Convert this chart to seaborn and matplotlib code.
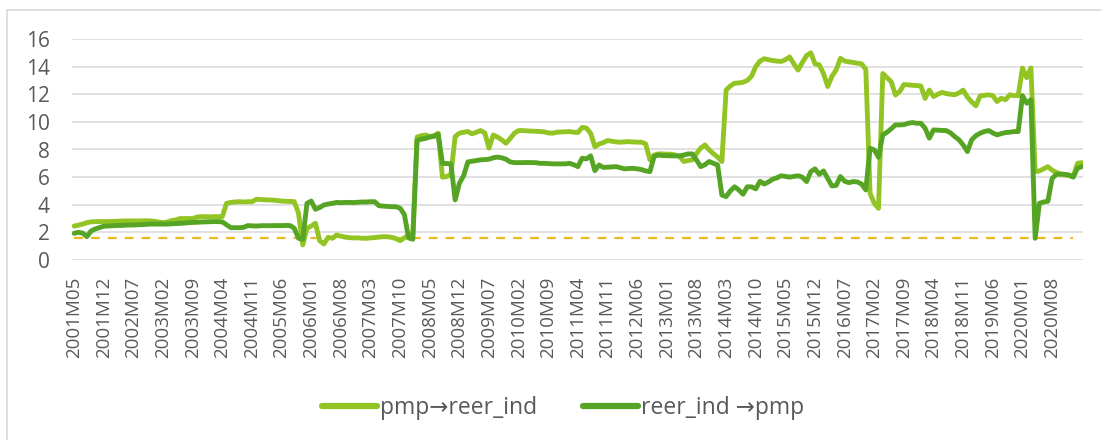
import numpy as np
import pandas as pd
import matplotlib
matplotlib.use("Agg")
import matplotlib.pyplot as plt
import seaborn as sns
from matplotlib.lines import Line2D

# ---- data (monthly, 2001M05 .. 2021M03) ----
pmp_to_reer = [
    # 2001 M05-M12
    2.46, 2.52, 2.60, 2.70, 2.76, 2.78, 2.78, 2.78,
    # 2002
    2.78, 2.80, 2.80, 2.82, 2.83, 2.83, 2.83, 2.83, 2.83, 2.84, 2.83, 2.80,
    # 2003
    2.75, 2.70, 2.75, 2.85, 2.90, 3.00, 3.00, 3.00, 3.00, 3.10, 3.14, 3.14,
    # 2004
    3.12, 3.14, 3.14, 3.14, 4.10, 4.17, 4.20, 4.22, 4.20, 4.22, 4.22, 4.39,
    # 2005
    4.38, 4.36, 4.35, 4.34, 4.30, 4.27, 4.25, 4.24, 4.22, 3.40, 1.09, 2.30,
    # 2006
    2.45, 2.66, 1.40, 1.16, 1.64, 1.57, 1.81, 1.72, 1.66, 1.62, 1.60, 1.60,
    # 2007
    1.58, 1.57, 1.60, 1.62, 1.66, 1.69, 1.68, 1.64, 1.55, 1.40, 1.60, 1.80,
    # 2008
    1.85, 8.90, 9.00, 9.05, 8.94, 9.00, 9.18, 6.00, 6.04, 6.20, 8.94, 9.18,
    # 2009
    9.25, 9.30, 9.13, 9.25, 9.37, 9.20, 8.10, 9.05, 8.90, 8.70, 8.45, 8.80,
    # 2010
    9.18, 9.37, 9.37, 9.35, 9.33, 9.32, 9.30, 9.28, 9.20, 9.18, 9.25, 9.27,
    # 2011
    9.28, 9.30, 9.25, 9.23, 9.60, 9.55, 9.18, 8.20, 8.40, 8.50, 8.65, 8.60,
    # 2012
    8.55, 8.53, 8.55, 8.57, 8.55, 8.53, 8.53, 8.40, 7.25, 7.60, 7.68, 7.68,
    # 2013
    7.66, 7.66, 7.60, 7.50, 7.13, 7.20, 7.25, 7.70, 8.10, 8.33, 7.97, 7.70,
    # 2014
    7.45, 7.13, 12.30, 12.60, 12.80, 12.82, 12.87, 13.00, 13.30, 14.00, 14.40, 14.57,
    # 2015
    14.50, 14.44, 14.40, 14.37, 14.50, 14.70, 14.20, 13.75, 14.30, 14.80, 15.00, 14.20,
    # 2016
    14.13, 13.50, 12.56, 13.30, 13.77, 14.60, 14.40, 14.35, 14.30, 14.25, 14.20, 13.80,
    # 2017
    4.83, 4.10, 3.74, 13.50, 13.20, 12.90, 11.95, 12.20, 12.70, 12.68, 12.65, 12.63,
    # 2018
    12.60, 11.70, 12.30, 11.84, 12.00, 12.13, 12.05, 12.00, 11.96, 12.10, 12.30, 11.79,
    # 2019
    11.45, 11.16, 11.88, 11.92, 11.96, 11.90, 11.47, 11.71, 11.60, 11.96, 11.90, 11.90,
    # 2020
    13.90, 13.20, 13.90, 6.40, 6.45, 6.60, 6.76, 6.50, 6.35, 6.20, 6.16, 6.10,
    # 2021 M01-M03
    6.04, 7.00, 7.05,
]

reer_to_pmp = [
    # 2001 M05-M12
    1.93, 2.00, 1.95, 1.69, 2.10, 2.25, 2.35, 2.45,
    # 2002
    2.46, 2.48, 2.50, 2.50, 2.52, 2.53, 2.53, 2.55, 2.56, 2.58, 2.60, 2.60,
    # 2003
    2.60, 2.60, 2.60, 2.62, 2.64, 2.65, 2.67, 2.70, 2.72, 2.73, 2.75, 2.76,
    # 2004
    2.77, 2.78, 2.78, 2.76, 2.55, 2.34, 2.34, 2.34, 2.36, 2.49, 2.47, 2.46,
    # 2005
    2.48, 2.49, 2.48, 2.49, 2.49, 2.49, 2.50, 2.49, 2.30, 1.57, 1.50, 4.10,
    # 2006
    4.27, 3.67, 3.80, 3.98, 4.05, 4.10, 4.17, 4.15, 4.17, 4.17, 4.16, 4.18,
    # 2007
    4.20, 4.20, 4.22, 4.22, 3.93, 3.90, 3.88, 3.86, 3.86, 3.75, 3.30, 1.60,
    # 2008
    1.50, 8.65, 8.75, 8.80, 8.90, 8.95, 9.10, 7.00, 6.98, 6.96, 4.35, 5.55,
    # 2009
    6.10, 7.10, 7.15, 7.20, 7.25, 7.27, 7.30, 7.40, 7.45, 7.40, 7.30, 7.10,
    # 2010
    7.05, 7.05, 7.05, 7.06, 7.05, 7.05, 7.00, 7.00, 6.98, 6.96, 6.96, 6.96,
    # 2011
    6.96, 7.00, 6.90, 6.76, 7.37, 7.32, 7.54, 6.47, 6.88, 6.70, 6.72, 6.74,
    # 2012
    6.76, 6.68, 6.60, 6.62, 6.64, 6.60, 6.55, 6.45, 6.40, 7.50, 7.60, 7.56,
    # 2013
    7.55, 7.54, 7.54, 7.54, 7.60, 7.68, 7.68, 7.25, 6.76, 6.90, 7.13, 7.00,
    # 2014
    6.88, 4.70, 4.59, 5.00, 5.30, 5.07, 4.76, 5.30, 5.30, 5.15, 5.70, 5.50,
    # 2015
    5.65, 5.85, 5.95, 6.10, 6.05, 6.00, 6.05, 6.10, 6.00, 5.68, 6.40, 6.60,
    # 2016
    6.20, 6.45, 5.90, 5.36, 5.40, 6.04, 5.70, 5.60, 5.68, 5.65, 5.50, 5.07,
    # 2017
    8.09, 7.97, 7.44, 9.06, 9.25, 9.50, 9.78, 9.78, 9.80, 9.90, 9.95, 9.90,
    # 2018
    9.90, 9.54, 8.82, 9.42, 9.40, 9.38, 9.37, 9.20, 8.94, 8.70, 8.33, 7.85,
    # 2019
    8.70, 9.00, 9.18, 9.30, 9.37, 9.20, 9.06, 9.15, 9.23, 9.25, 9.30, 9.30,
    # 2020
    11.90, 11.35, 11.60, 1.57, 4.10, 4.20, 4.25, 5.90, 6.20, 6.23, 6.20, 6.16,
    # 2021 M01-M03
    6.00, 6.64, 6.76,
]

threshold_value = 1.62
threshold_months = 237  # dashed reference line length (points)

start_year, start_month = 2001, 5
n = len(pmp_to_reer)
months = []
y, m = start_year, start_month
for _ in range(n):
    months.append(f"{y}M{m:02d}")
    m += 1
    if m > 12:
        m = 1
        y += 1
tick_step = 7
tick_positions = list(range(0, n - 1, tick_step))  # 2001M05 ... 2020M08

series_names = ["pmp\u2192reer_ind", "reer_ind \u2192pmp"]
colors = ["#92C423", "#55A423"]
threshold_color = "#EDB821"

df = pd.DataFrame({
    "idx": np.arange(n),
    series_names[0]: pmp_to_reer,
    series_names[1]: reer_to_pmp,
})
long = df.melt(id_vars="idx", var_name="series", value_name="value")

thr = pd.DataFrame({"idx": np.arange(threshold_months),
                    "value": [threshold_value] * threshold_months})

sns.set_theme(style="white")
plt.rcParams["font.family"] = ["Open Sans", "DejaVu Sans"]

fig = plt.figure(figsize=(11.01, 4.40), dpi=100)
ax = fig.add_axes([72 / 1101, 1 - 260 / 440, (1083 - 72) / 1101, (260 - 39) / 440])

for yv in range(0, 17, 2):
    ax.axhline(yv, color="#D9D9D9", lw=1.1, zorder=0)

sns.lineplot(data=long, x="idx", y="value", hue="series",
             palette=dict(zip(series_names, colors)), lw=3.5,
             ax=ax, legend=False, zorder=3, sort=False)
sns.lineplot(data=thr, x="idx", y="value", color=threshold_color, lw=1.6,
             linestyle=(0, (4, 3.6)), ax=ax, legend=False, zorder=2)

ax.set_xlim(-0.5, n - 0.7)
ax.set_ylim(0, 16)
ax.set_yticks(range(0, 17, 2))
ax.set_xticks(tick_positions)
ax.set_xticklabels([months[i] for i in tick_positions], rotation=90)
ax.tick_params(axis="y", length=0, pad=16, labelsize=15, labelcolor="#595959")
ax.tick_params(axis="x", length=0, pad=12, labelsize=13.5, labelcolor="#595959")
ax.set_xlabel("")
ax.set_ylabel("")
for s in ax.spines.values():
    s.set_visible(False)

handles = [Line2D([0], [0], color=c, lw=4.5, solid_capstyle="round") for c in colors]
leg = fig.legend(handles, series_names, loc="center", bbox_to_anchor=(563 / 1101, 1 - 408 / 440),
                 ncol=2, frameon=False, fontsize=16.5, handlelength=2.4, handletextpad=0.12,
                 columnspacing=2.0, labelcolor="#595959")

# outer chart frame (top and left edges visible)
fig.add_artist(Line2D([7 / 1101, 1], [1 - 10 / 440, 1 - 10 / 440], color="#D9D9D9", lw=1.2,
                      transform=fig.transFigure))
fig.add_artist(Line2D([7 / 1101, 7 / 1101], [0, 1 - 10 / 440], color="#D9D9D9", lw=1.2,
                      transform=fig.transFigure))

fig.savefig("out.png", dpi=100, facecolor="white")
